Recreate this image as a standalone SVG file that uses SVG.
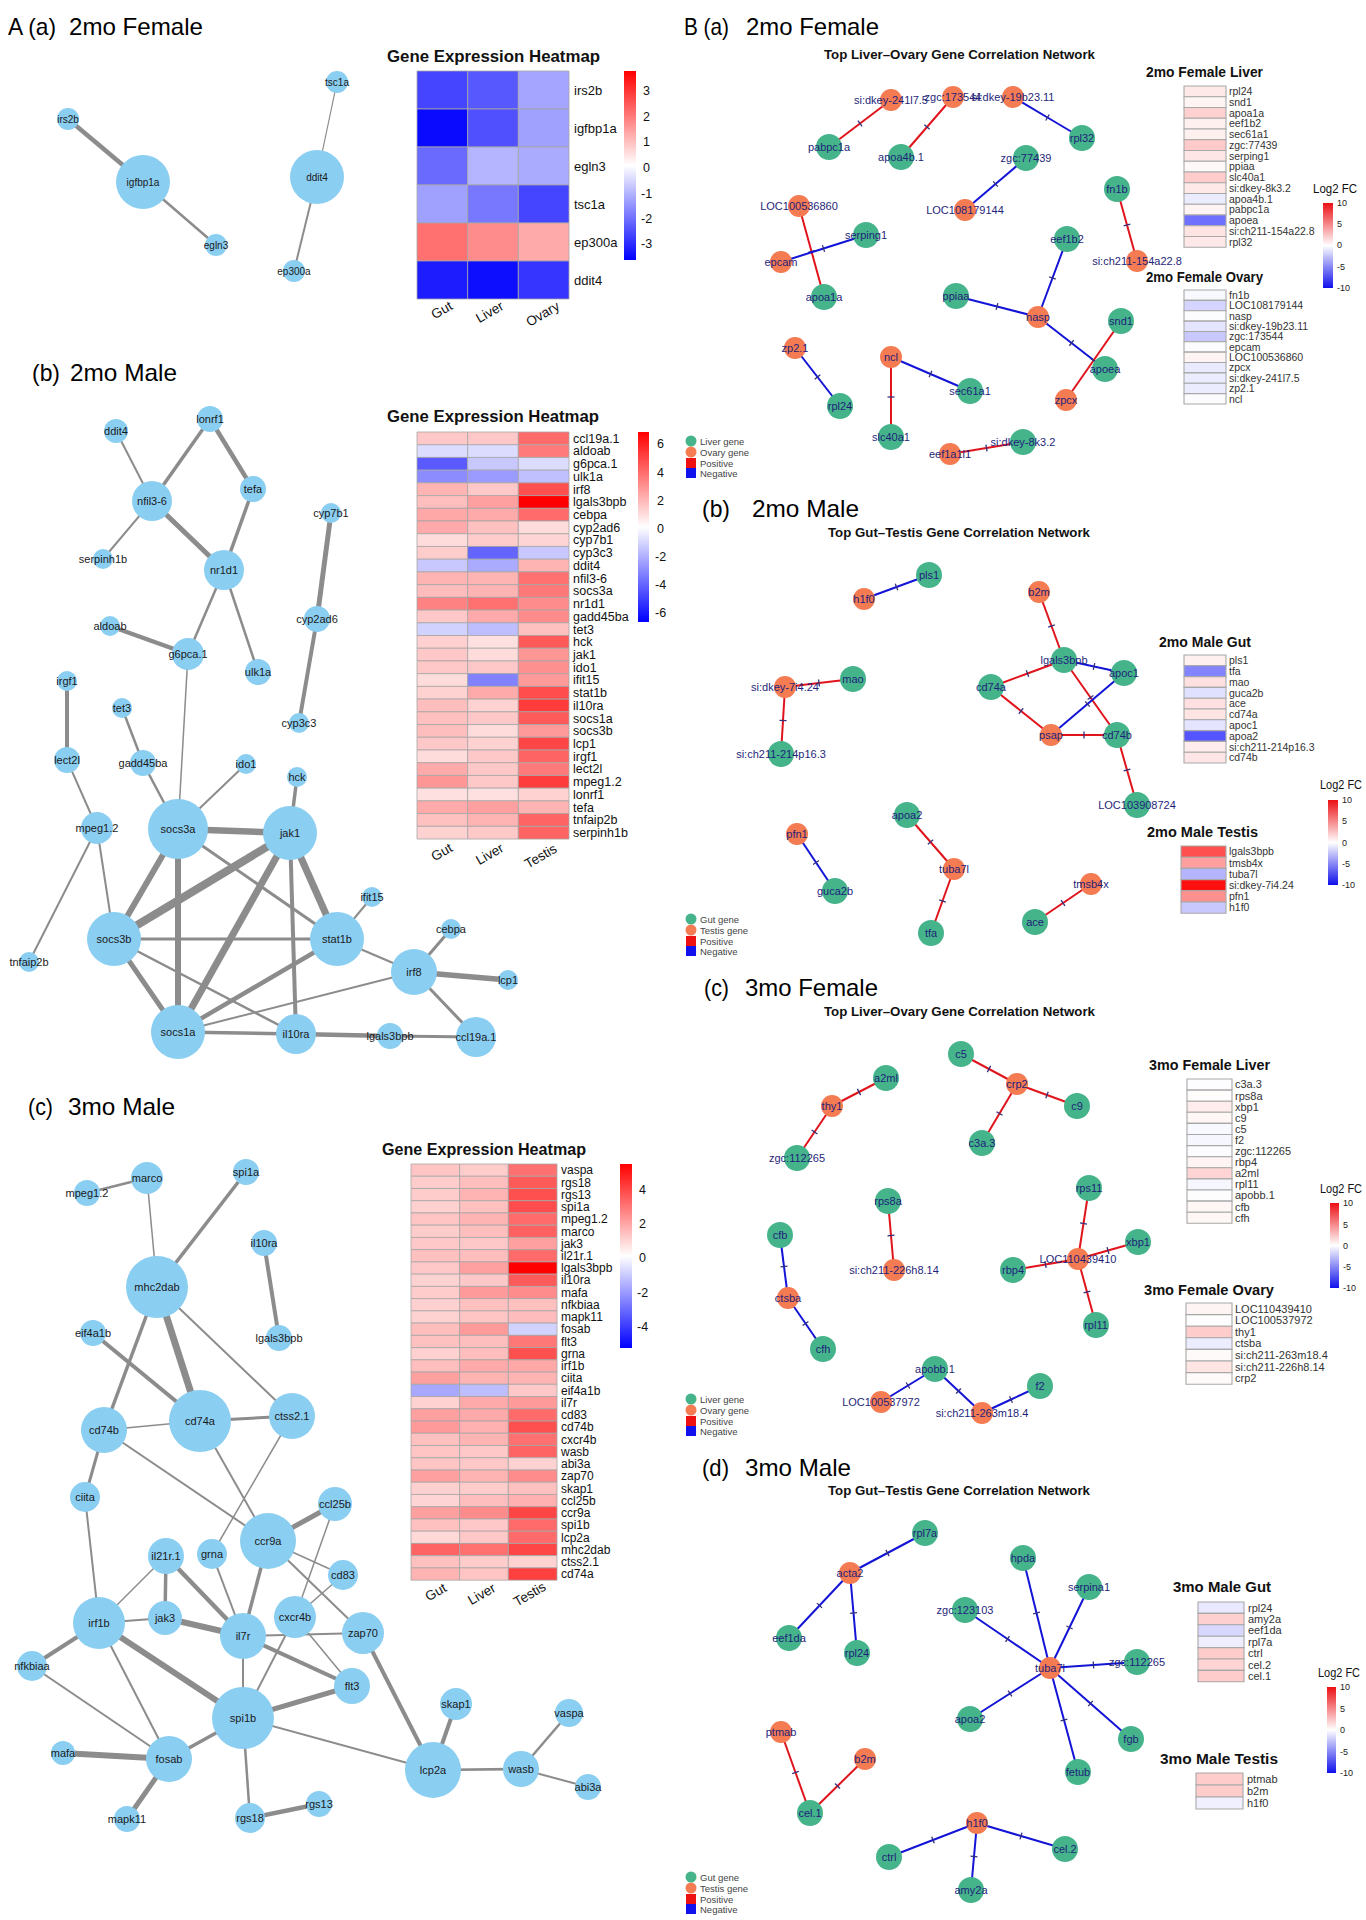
<svg xmlns="http://www.w3.org/2000/svg" width="1366" height="1920" viewBox="0 0 1366 1920">
<defs>
<linearGradient id="cbA" x1="0" y1="0" x2="0" y2="1"><stop offset="0" stop-color="#ff0000"/><stop offset="0.5" stop-color="#ffffff"/><stop offset="1" stop-color="#0000ff"/></linearGradient>
<linearGradient id="cbB" x1="0" y1="0" x2="0" y2="1"><stop offset="0" stop-color="#ec1014"/><stop offset="0.5" stop-color="#ffffff"/><stop offset="1" stop-color="#1010ec"/></linearGradient>
<marker id="tk" viewBox="-4 -4 8 8" markerWidth="8" markerHeight="8" refX="0" refY="0" orient="auto" markerUnits="userSpaceOnUse"><path d="M0,-3.5 L0,3.5" stroke="#33307a" stroke-width="1.3"/></marker>
</defs>
<style>
.ttl{font-family:"Liberation Sans",Arial,sans-serif;font-size:24px;fill:#000}
.hmt{font-family:"Liberation Sans",Arial,sans-serif;font-weight:bold;font-size:16px;fill:#111}
.hl{font-family:"Liberation Sans",Arial,sans-serif;font-size:12.5px;fill:#111}
.tk{font-family:"Liberation Sans",Arial,sans-serif;font-size:12.5px;fill:#111}
.cl{font-family:"Liberation Sans",Arial,sans-serif;font-size:13.5px;fill:#111;text-anchor:middle}
.c rect{stroke:#a6a6a6;stroke-width:0.8;vector-effect:non-scaling-stroke}
.mc rect{stroke:#a8a8a8;stroke-width:1.1;vector-effect:non-scaling-stroke}
.an circle{fill:#8acef2}
.an text{font-family:"Liberation Sans",Arial,sans-serif;font-size:11px;fill:#1a1a1a;text-anchor:middle;dominant-baseline:central}
.aa text{font-size:10px}
.ae line{stroke:#8c8c8c}
.bn text{font-family:"Liberation Sans",Arial,sans-serif;font-size:11px;fill:#1f1f7a;text-anchor:middle;dominant-baseline:central}
.gr{fill:#45b48b}
.or{fill:#f47b52}
.pe{stroke:#e0141c;stroke-width:2;fill:none;marker-mid:url(#tk)}
.ne{stroke:#1414d6;stroke-width:2;fill:none;marker-mid:url(#tk)}
.sub{font-family:"Liberation Sans",Arial,sans-serif;font-weight:bold;font-size:12.5px;fill:#111}
.mt{font-family:"Liberation Sans",Arial,sans-serif;font-weight:bold;font-size:14.5px;fill:#111}
.ml{font-family:"Liberation Sans",Arial,sans-serif;font-size:10.5px;fill:#333}
.ml2{font-family:"Liberation Sans",Arial,sans-serif;font-size:11px;fill:#333}
.lg{font-family:"Liberation Sans",Arial,sans-serif;font-size:9.5px;fill:#444}
.lf{font-family:"Liberation Sans",Arial,sans-serif;font-size:12px;fill:#111}
.lft{font-family:"Liberation Sans",Arial,sans-serif;font-size:9px;fill:#222}
</style>
<rect width="1366" height="1920" fill="#ffffff"/>

<!-- ================= A (a) ================= -->
<g id="A-a-title">
<text class="ttl" x="8" y="35" textLength="48" lengthAdjust="spacingAndGlyphs">A (a)</text>
<text class="ttl" x="69" y="35" textLength="134" lengthAdjust="spacingAndGlyphs">2mo Female</text>
</g>
<g id="aa-edges" class="ae">
<line x1="68" y1="119" x2="143" y2="182" stroke-width="4.5"/>
<line x1="143" y1="182" x2="216" y2="245" stroke-width="2.5"/>
<line x1="317" y1="177" x2="337" y2="82" stroke-width="1.2"/>
<line x1="317" y1="177" x2="294" y2="271" stroke-width="2"/>
</g>
<g class="an aa">
<g id="aa-irs2b"><circle cx="68" cy="119" r="11"/><text x="68" y="119">irs2b</text></g>
<g id="aa-igfbp1a"><circle cx="143" cy="182" r="27"/><text x="143" y="182">igfbp1a</text></g>
<g id="aa-egln3"><circle cx="216" cy="245" r="11"/><text x="216" y="245">egln3</text></g>
<g id="aa-tsc1a"><circle cx="337" cy="82" r="11"/><text x="337" y="82">tsc1a</text></g>
<g id="aa-ddit4"><circle cx="317" cy="177" r="27"/><text x="317" y="177">ddit4</text></g>
<g id="aa-ep300a"><circle cx="294" cy="271" r="11"/><text x="294" y="271">ep300a</text></g>
</g>
<g id="aa-heatmap">
<text class="hmt" x="387" y="62" textLength="213" lengthAdjust="spacingAndGlyphs">Gene Expression Heatmap</text>
<g class="c" transform="translate(417,71) scale(50.67,38)">
<rect x="0" y="0" width="1" height="1" fill="#4545ff"/><rect x="1" y="0" width="1" height="1" fill="#5858ff"/><rect x="2" y="0" width="1" height="1" fill="#a5a5ff"/>
<rect x="0" y="1" width="1" height="1" fill="#0a0aff"/><rect x="1" y="1" width="1" height="1" fill="#5050ff"/><rect x="2" y="1" width="1" height="1" fill="#a0a0ff"/>
<rect x="0" y="2" width="1" height="1" fill="#6a6aff"/><rect x="1" y="2" width="1" height="1" fill="#b5b5ff"/><rect x="2" y="2" width="1" height="1" fill="#aaaaff"/>
<rect x="0" y="3" width="1" height="1" fill="#a0a0ff"/><rect x="1" y="3" width="1" height="1" fill="#7878ff"/><rect x="2" y="3" width="1" height="1" fill="#4545ff"/>
<rect x="0" y="4" width="1" height="1" fill="#ff7070"/><rect x="1" y="4" width="1" height="1" fill="#ff8c8c"/><rect x="2" y="4" width="1" height="1" fill="#ffaaaa"/>
<rect x="0" y="5" width="1" height="1" fill="#1c1cff"/><rect x="1" y="5" width="1" height="1" fill="#0e0eff"/><rect x="2" y="5" width="1" height="1" fill="#3535ff"/>
</g>
<text class="hl" style="font-size:13px"><tspan x="574" y="94.6">irs2b</tspan><tspan x="574" dy="38">igfbp1a</tspan><tspan x="574" dy="38">egln3</tspan><tspan x="574" dy="38">tsc1a</tspan><tspan x="574" dy="38">ep300a</tspan><tspan x="574" dy="38">ddit4</tspan></text>
<text class="cl" transform="translate(444,314) rotate(-30)">Gut</text>
<text class="cl" transform="translate(492,316) rotate(-30)">Liver</text>
<text class="cl" transform="translate(545,318) rotate(-30)">Ovary</text>
<rect x="624" y="71" width="12" height="189" fill="url(#cbA)"/>
<text class="tk"><tspan x="643" y="94.5">3</tspan><tspan x="643" y="120.5">2</tspan><tspan x="643" y="145.5">1</tspan><tspan x="643" y="171.5">0</tspan><tspan x="641" y="197.5">-1</tspan><tspan x="641" y="222.5">-2</tspan><tspan x="641" y="247.5">-3</tspan></text>
</g>

<!-- ================= A (b) ================= -->
<g id="A-b-title">
<text class="ttl" x="32" y="381" textLength="28" lengthAdjust="spacingAndGlyphs">(b)</text>
<text class="ttl" x="70" y="381" textLength="107" lengthAdjust="spacingAndGlyphs">2mo Male</text>
</g>
<g id="ab-edges" class="ae">
<line x1="116" y1="431" x2="152" y2="501" stroke-width="2"/>
<line x1="210" y1="419" x2="152" y2="501" stroke-width="3.5"/>
<line x1="210" y1="419" x2="253" y2="489" stroke-width="4.5"/>
<line x1="152" y1="501" x2="103" y2="559" stroke-width="2"/>
<line x1="152" y1="501" x2="224" y2="570" stroke-width="5"/>
<line x1="253" y1="489" x2="224" y2="570" stroke-width="3.5"/>
<line x1="224" y1="570" x2="188" y2="654" stroke-width="2.5"/>
<line x1="224" y1="570" x2="258" y2="672" stroke-width="2.5"/>
<line x1="110" y1="626" x2="188" y2="654" stroke-width="4.5"/>
<line x1="188" y1="654" x2="178" y2="829" stroke-width="1.5"/>
<line x1="331" y1="513" x2="317" y2="619" stroke-width="5"/>
<line x1="317" y1="619" x2="299" y2="723" stroke-width="4"/>
<line x1="67" y1="681" x2="67" y2="760" stroke-width="4"/>
<line x1="122" y1="708" x2="143" y2="763" stroke-width="2.5"/>
<line x1="67" y1="760" x2="97" y2="828" stroke-width="2"/>
<line x1="143" y1="763" x2="178" y2="829" stroke-width="2.5"/>
<line x1="246" y1="764" x2="178" y2="829" stroke-width="2"/>
<line x1="297" y1="777" x2="290" y2="833" stroke-width="3.5"/>
<line x1="97" y1="828" x2="29" y2="962" stroke-width="2"/>
<line x1="97" y1="828" x2="114" y2="939" stroke-width="2"/>
<line x1="178" y1="829" x2="290" y2="833" stroke-width="6.5"/>
<line x1="178" y1="829" x2="114" y2="939" stroke-width="6"/>
<line x1="178" y1="829" x2="178" y2="1032" stroke-width="6"/>
<line x1="178" y1="829" x2="337" y2="939" stroke-width="3"/>
<line x1="290" y1="833" x2="114" y2="939" stroke-width="8"/>
<line x1="290" y1="833" x2="178" y2="1032" stroke-width="7"/>
<line x1="290" y1="833" x2="296" y2="1034" stroke-width="4"/>
<line x1="290" y1="833" x2="337" y2="939" stroke-width="7"/>
<line x1="372" y1="897" x2="337" y2="939" stroke-width="2"/>
<line x1="114" y1="939" x2="337" y2="939" stroke-width="3"/>
<line x1="114" y1="939" x2="178" y2="1032" stroke-width="5"/>
<line x1="114" y1="939" x2="296" y2="1034" stroke-width="2.5"/>
<line x1="178" y1="1032" x2="337" y2="939" stroke-width="4.5"/>
<line x1="178" y1="1032" x2="414" y2="972" stroke-width="2"/>
<line x1="178" y1="1032" x2="296" y2="1034" stroke-width="3.5"/>
<line x1="337" y1="939" x2="414" y2="972" stroke-width="2"/>
<line x1="451" y1="929" x2="414" y2="972" stroke-width="3"/>
<line x1="414" y1="972" x2="508" y2="980" stroke-width="5.5"/>
<line x1="414" y1="972" x2="476" y2="1037" stroke-width="3"/>
<line x1="296" y1="1034" x2="390" y2="1036" stroke-width="4.5"/>
<line x1="390" y1="1036" x2="476" y2="1037" stroke-width="3"/>
</g>
<g class="an">
<g id="ab-ddit4"><circle cx="116" cy="431" r="12"/><text x="116" y="431">ddit4</text></g>
<g id="ab-lonrf1"><circle cx="210" cy="419" r="13"/><text x="210" y="419">lonrf1</text></g>
<g id="ab-tefa"><circle cx="253" cy="489" r="13"/><text x="253" y="489">tefa</text></g>
<g id="ab-nfil3-6"><circle cx="152" cy="501" r="20"/><text x="152" y="501">nfil3-6</text></g>
<g id="ab-cyp7b1"><circle cx="331" cy="513" r="10"/><text x="331" y="513">cyp7b1</text></g>
<g id="ab-serpinh1b"><circle cx="103" cy="559" r="10"/><text x="103" y="559">serpinh1b</text></g>
<g id="ab-nr1d1"><circle cx="224" cy="570" r="20"/><text x="224" y="570">nr1d1</text></g>
<g id="ab-aldoab"><circle cx="110" cy="626" r="10"/><text x="110" y="626">aldoab</text></g>
<g id="ab-cyp2ad6"><circle cx="317" cy="619" r="13"/><text x="317" y="619">cyp2ad6</text></g>
<g id="ab-g6pca.1"><circle cx="188" cy="654" r="16"/><text x="188" y="654">g6pca.1</text></g>
<g id="ab-ulk1a"><circle cx="258" cy="672" r="13"/><text x="258" y="672">ulk1a</text></g>
<g id="ab-irgf1"><circle cx="67" cy="681" r="10"/><text x="67" y="681">irgf1</text></g>
<g id="ab-tet3"><circle cx="122" cy="708" r="10"/><text x="122" y="708">tet3</text></g>
<g id="ab-cyp3c3"><circle cx="299" cy="723" r="10"/><text x="299" y="723">cyp3c3</text></g>
<g id="ab-lect2l"><circle cx="67" cy="760" r="13"/><text x="67" y="760">lect2l</text></g>
<g id="ab-gadd45ba"><circle cx="143" cy="763" r="13"/><text x="143" y="763">gadd45ba</text></g>
<g id="ab-ido1"><circle cx="246" cy="764" r="10"/><text x="246" y="764">ido1</text></g>
<g id="ab-hck"><circle cx="297" cy="777" r="10"/><text x="297" y="777">hck</text></g>
<g id="ab-mpeg1.2"><circle cx="97" cy="828" r="16"/><text x="97" y="828">mpeg1.2</text></g>
<g id="ab-socs3a"><circle cx="178" cy="829" r="30"/><text x="178" y="829">socs3a</text></g>
<g id="ab-jak1"><circle cx="290" cy="833" r="27"/><text x="290" y="833">jak1</text></g>
<g id="ab-ifit15"><circle cx="372" cy="897" r="10"/><text x="372" y="897">ifit15</text></g>
<g id="ab-socs3b"><circle cx="114" cy="939" r="27"/><text x="114" y="939">socs3b</text></g>
<g id="ab-stat1b"><circle cx="337" cy="939" r="27"/><text x="337" y="939">stat1b</text></g>
<g id="ab-cebpa"><circle cx="451" cy="929" r="10"/><text x="451" y="929">cebpa</text></g>
<g id="ab-tnfaip2b"><circle cx="29" cy="962" r="10"/><text x="29" y="962">tnfaip2b</text></g>
<g id="ab-irf8"><circle cx="414" cy="972" r="23"/><text x="414" y="972">irf8</text></g>
<g id="ab-lcp1"><circle cx="508" cy="980" r="10"/><text x="508" y="980">lcp1</text></g>
<g id="ab-socs1a"><circle cx="178" cy="1032" r="27"/><text x="178" y="1032">socs1a</text></g>
<g id="ab-il10ra"><circle cx="296" cy="1034" r="20"/><text x="296" y="1034">il10ra</text></g>
<g id="ab-lgals3bpb"><circle cx="390" cy="1036" r="13"/><text x="390" y="1036">lgals3bpb</text></g>
<g id="ab-ccl19a.1"><circle cx="476" cy="1037" r="20"/><text x="476" y="1037">ccl19a.1</text></g>
</g>
<g id="ab-heatmap">
<text class="hmt" x="387" y="422" textLength="212" lengthAdjust="spacingAndGlyphs">Gene Expression Heatmap</text>
<g class="c" transform="translate(417,432) scale(50.67,12.72)">
<rect x="0" y="0" width="1" height="1" fill="#ffc8c8"/><rect x="1" y="0" width="1" height="1" fill="#ffc8c8"/><rect x="2" y="0" width="1" height="1" fill="#ff6a6a"/>
<rect x="0" y="1" width="1" height="1" fill="#dcdcff"/><rect x="1" y="1" width="1" height="1" fill="#dcdcff"/><rect x="2" y="1" width="1" height="1" fill="#ff7a7a"/>
<rect x="0" y="2" width="1" height="1" fill="#5a5aff"/><rect x="1" y="2" width="1" height="1" fill="#c8c8ff"/><rect x="2" y="2" width="1" height="1" fill="#dcdcff"/>
<rect x="0" y="3" width="1" height="1" fill="#8c8cff"/><rect x="1" y="3" width="1" height="1" fill="#9a9aff"/><rect x="2" y="3" width="1" height="1" fill="#c0c0ff"/>
<rect x="0" y="4" width="1" height="1" fill="#ffb4b4"/><rect x="1" y="4" width="1" height="1" fill="#ffc8c8"/><rect x="2" y="4" width="1" height="1" fill="#ff5050"/>
<rect x="0" y="5" width="1" height="1" fill="#ffbebe"/><rect x="1" y="5" width="1" height="1" fill="#ffa0a0"/><rect x="2" y="5" width="1" height="1" fill="#ff0000"/>
<rect x="0" y="6" width="1" height="1" fill="#ffa8a8"/><rect x="1" y="6" width="1" height="1" fill="#ffaaaa"/><rect x="2" y="6" width="1" height="1" fill="#ff6a6a"/>
<rect x="0" y="7" width="1" height="1" fill="#ffaaaa"/><rect x="1" y="7" width="1" height="1" fill="#ffc0c0"/><rect x="2" y="7" width="1" height="1" fill="#ffdcdc"/>
<rect x="0" y="8" width="1" height="1" fill="#ffdcdc"/><rect x="1" y="8" width="1" height="1" fill="#ffcccc"/><rect x="2" y="8" width="1" height="1" fill="#ffd4d4"/>
<rect x="0" y="9" width="1" height="1" fill="#ffcccc"/><rect x="1" y="9" width="1" height="1" fill="#6464ff"/><rect x="2" y="9" width="1" height="1" fill="#c8c8ff"/>
<rect x="0" y="10" width="1" height="1" fill="#c8c8ff"/><rect x="1" y="10" width="1" height="1" fill="#aaaaff"/><rect x="2" y="10" width="1" height="1" fill="#ffb4b4"/>
<rect x="0" y="11" width="1" height="1" fill="#ffb4b4"/><rect x="1" y="11" width="1" height="1" fill="#ffb4b4"/><rect x="2" y="11" width="1" height="1" fill="#ff7070"/>
<rect x="0" y="12" width="1" height="1" fill="#ffbcbc"/><rect x="1" y="12" width="1" height="1" fill="#ffb4b4"/><rect x="2" y="12" width="1" height="1" fill="#ff7878"/>
<rect x="0" y="13" width="1" height="1" fill="#ff8282"/><rect x="1" y="13" width="1" height="1" fill="#ff7070"/><rect x="2" y="13" width="1" height="1" fill="#ff8c8c"/>
<rect x="0" y="14" width="1" height="1" fill="#ffc8c8"/><rect x="1" y="14" width="1" height="1" fill="#ffaaaa"/><rect x="2" y="14" width="1" height="1" fill="#ff8c8c"/>
<rect x="0" y="15" width="1" height="1" fill="#d2d2ff"/><rect x="1" y="15" width="1" height="1" fill="#bebeff"/><rect x="2" y="15" width="1" height="1" fill="#ffc0c0"/>
<rect x="0" y="16" width="1" height="1" fill="#ffd0d0"/><rect x="1" y="16" width="1" height="1" fill="#ffe0e0"/><rect x="2" y="16" width="1" height="1" fill="#ff5a5a"/>
<rect x="0" y="17" width="1" height="1" fill="#ffc8c8"/><rect x="1" y="17" width="1" height="1" fill="#ffdcdc"/><rect x="2" y="17" width="1" height="1" fill="#ff9696"/>
<rect x="0" y="18" width="1" height="1" fill="#ffc8c8"/><rect x="1" y="18" width="1" height="1" fill="#ffc8c8"/><rect x="2" y="18" width="1" height="1" fill="#ff9090"/>
<rect x="0" y="19" width="1" height="1" fill="#ffdcdc"/><rect x="1" y="19" width="1" height="1" fill="#8282ff"/><rect x="2" y="19" width="1" height="1" fill="#ff9a9a"/>
<rect x="0" y="20" width="1" height="1" fill="#ffd2d2"/><rect x="1" y="20" width="1" height="1" fill="#ffaaaa"/><rect x="2" y="20" width="1" height="1" fill="#ff4c4c"/>
<rect x="0" y="21" width="1" height="1" fill="#ffbebe"/><rect x="1" y="21" width="1" height="1" fill="#ffd2d2"/><rect x="2" y="21" width="1" height="1" fill="#ff3c3c"/>
<rect x="0" y="22" width="1" height="1" fill="#ffc0c0"/><rect x="1" y="22" width="1" height="1" fill="#ffc8c8"/><rect x="2" y="22" width="1" height="1" fill="#ff5a5a"/>
<rect x="0" y="23" width="1" height="1" fill="#ffbebe"/><rect x="1" y="23" width="1" height="1" fill="#ffdcdc"/><rect x="2" y="23" width="1" height="1" fill="#ff9a9a"/>
<rect x="0" y="24" width="1" height="1" fill="#ffc8c8"/><rect x="1" y="24" width="1" height="1" fill="#ffd2d2"/><rect x="2" y="24" width="1" height="1" fill="#ff4646"/>
<rect x="0" y="25" width="1" height="1" fill="#ffdcdc"/><rect x="1" y="25" width="1" height="1" fill="#ffc8c8"/><rect x="2" y="25" width="1" height="1" fill="#ff6464"/>
<rect x="0" y="26" width="1" height="1" fill="#ffaaaa"/><rect x="1" y="26" width="1" height="1" fill="#ffc8c8"/><rect x="2" y="26" width="1" height="1" fill="#ff7a7a"/>
<rect x="0" y="27" width="1" height="1" fill="#ff9696"/><rect x="1" y="27" width="1" height="1" fill="#ffc8c8"/><rect x="2" y="27" width="1" height="1" fill="#ff3c3c"/>
<rect x="0" y="28" width="1" height="1" fill="#ffe0e0"/><rect x="1" y="28" width="1" height="1" fill="#ffe0e0"/><rect x="2" y="28" width="1" height="1" fill="#ffd2d2"/>
<rect x="0" y="29" width="1" height="1" fill="#ffaaaa"/><rect x="1" y="29" width="1" height="1" fill="#ffa0a0"/><rect x="2" y="29" width="1" height="1" fill="#ffb4b4"/>
<rect x="0" y="30" width="1" height="1" fill="#ffc0c0"/><rect x="1" y="30" width="1" height="1" fill="#ffb4b4"/><rect x="2" y="30" width="1" height="1" fill="#ff6464"/>
<rect x="0" y="31" width="1" height="1" fill="#ffd2d2"/><rect x="1" y="31" width="1" height="1" fill="#ffc8c8"/><rect x="2" y="31" width="1" height="1" fill="#ff6464"/>
</g>
<text class="hl"><tspan x="573" y="442.7">ccl19a.1</tspan><tspan x="573" dy="12.72">aldoab</tspan><tspan x="573" dy="12.72">g6pca.1</tspan><tspan x="573" dy="12.72">ulk1a</tspan><tspan x="573" dy="12.72">irf8</tspan><tspan x="573" dy="12.72">lgals3bpb</tspan><tspan x="573" dy="12.72">cebpa</tspan><tspan x="573" dy="12.72">cyp2ad6</tspan><tspan x="573" dy="12.72">cyp7b1</tspan><tspan x="573" dy="12.72">cyp3c3</tspan><tspan x="573" dy="12.72">ddit4</tspan><tspan x="573" dy="12.72">nfil3-6</tspan><tspan x="573" dy="12.72">socs3a</tspan><tspan x="573" dy="12.72">nr1d1</tspan><tspan x="573" dy="12.72">gadd45ba</tspan><tspan x="573" dy="12.72">tet3</tspan><tspan x="573" dy="12.72">hck</tspan><tspan x="573" dy="12.72">jak1</tspan><tspan x="573" dy="12.72">ido1</tspan><tspan x="573" dy="12.72">ifit15</tspan><tspan x="573" dy="12.72">stat1b</tspan><tspan x="573" dy="12.72">il10ra</tspan><tspan x="573" dy="12.72">socs1a</tspan><tspan x="573" dy="12.72">socs3b</tspan><tspan x="573" dy="12.72">lcp1</tspan><tspan x="573" dy="12.72">irgf1</tspan><tspan x="573" dy="12.72">lect2l</tspan><tspan x="573" dy="12.72">mpeg1.2</tspan><tspan x="573" dy="12.72">lonrf1</tspan><tspan x="573" dy="12.72">tefa</tspan><tspan x="573" dy="12.72">tnfaip2b</tspan><tspan x="573" dy="12.72">serpinh1b</tspan></text>
<text class="cl" transform="translate(444,856) rotate(-30)">Gut</text>
<text class="cl" transform="translate(492,858) rotate(-30)">Liver</text>
<text class="cl" transform="translate(543,860) rotate(-30)">Testis</text>
<rect x="638" y="432" width="11" height="190" fill="url(#cbA)"/>
<text class="tk"><tspan x="657" y="447.5">6</tspan><tspan x="657" y="476.5">4</tspan><tspan x="657" y="504.5">2</tspan><tspan x="657" y="532.5">0</tspan><tspan x="655" y="560.5">-2</tspan><tspan x="655" y="588.5">-4</tspan><tspan x="655" y="616.5">-6</tspan></text>
</g>

<!-- ================= A (c) ================= -->
<g id="A-c-title">
<text class="ttl" x="28" y="1115" textLength="25" lengthAdjust="spacingAndGlyphs">(c)</text>
<text class="ttl" x="68" y="1115" textLength="107" lengthAdjust="spacingAndGlyphs">3mo Male</text>
</g>
<g id="ac-edges" class="ae">
<line x1="87" y1="1193" x2="147" y2="1178" stroke-width="2.5"/>
<line x1="147" y1="1178" x2="157" y2="1287" stroke-width="1.5"/>
<line x1="246" y1="1172" x2="157" y2="1287" stroke-width="3.5"/>
<line x1="264" y1="1243" x2="279" y2="1338" stroke-width="4"/>
<line x1="157" y1="1287" x2="104" y2="1430" stroke-width="3.5"/>
<line x1="157" y1="1287" x2="200" y2="1421" stroke-width="7"/>
<line x1="157" y1="1287" x2="292" y2="1416" stroke-width="2"/>
<line x1="93" y1="1333" x2="200" y2="1421" stroke-width="4"/>
<line x1="104" y1="1430" x2="200" y2="1421" stroke-width="1.5"/>
<line x1="200" y1="1421" x2="292" y2="1416" stroke-width="3"/>
<line x1="104" y1="1430" x2="85" y2="1497" stroke-width="3"/>
<line x1="104" y1="1430" x2="268" y2="1541" stroke-width="2"/>
<line x1="200" y1="1421" x2="268" y2="1541" stroke-width="2"/>
<line x1="292" y1="1416" x2="212" y2="1554" stroke-width="1.5"/>
<line x1="268" y1="1541" x2="335" y2="1504" stroke-width="5"/>
<line x1="335" y1="1504" x2="295" y2="1617" stroke-width="1.5"/>
<line x1="268" y1="1541" x2="343" y2="1575" stroke-width="1.5"/>
<line x1="343" y1="1575" x2="295" y2="1617" stroke-width="1.5"/>
<line x1="268" y1="1541" x2="243" y2="1636" stroke-width="3.5"/>
<line x1="268" y1="1541" x2="363" y2="1633" stroke-width="2"/>
<line x1="85" y1="1497" x2="99" y2="1623" stroke-width="2"/>
<line x1="99" y1="1623" x2="166" y2="1556" stroke-width="1.5"/>
<line x1="166" y1="1556" x2="165" y2="1618" stroke-width="3.5"/>
<line x1="166" y1="1556" x2="243" y2="1636" stroke-width="4.5"/>
<line x1="99" y1="1623" x2="165" y2="1618" stroke-width="2"/>
<line x1="165" y1="1618" x2="243" y2="1636" stroke-width="6"/>
<line x1="212" y1="1554" x2="243" y2="1636" stroke-width="2"/>
<line x1="243" y1="1636" x2="363" y2="1633" stroke-width="2"/>
<line x1="295" y1="1617" x2="352" y2="1686" stroke-width="1.5"/>
<line x1="243" y1="1636" x2="352" y2="1686" stroke-width="4"/>
<line x1="295" y1="1617" x2="243" y2="1718" stroke-width="2"/>
<line x1="243" y1="1636" x2="243" y2="1718" stroke-width="2"/>
<line x1="99" y1="1623" x2="243" y2="1718" stroke-width="6"/>
<line x1="99" y1="1623" x2="32" y2="1666" stroke-width="4"/>
<line x1="99" y1="1623" x2="169" y2="1759" stroke-width="2"/>
<line x1="32" y1="1666" x2="169" y2="1759" stroke-width="2"/>
<line x1="243" y1="1718" x2="352" y2="1686" stroke-width="5"/>
<line x1="243" y1="1718" x2="169" y2="1759" stroke-width="3.5"/>
<line x1="243" y1="1718" x2="433" y2="1770" stroke-width="2"/>
<line x1="243" y1="1718" x2="250" y2="1818" stroke-width="2.5"/>
<line x1="63" y1="1753" x2="169" y2="1759" stroke-width="6"/>
<line x1="169" y1="1759" x2="127" y2="1819" stroke-width="5"/>
<line x1="250" y1="1818" x2="319" y2="1804" stroke-width="4.5"/>
<line x1="363" y1="1633" x2="433" y2="1770" stroke-width="4"/>
<line x1="456" y1="1704" x2="433" y2="1770" stroke-width="4"/>
<line x1="433" y1="1770" x2="521" y2="1769" stroke-width="2.5"/>
<line x1="521" y1="1769" x2="569" y2="1713" stroke-width="2.5"/>
<line x1="521" y1="1769" x2="588" y2="1787" stroke-width="2"/>
</g>
<g class="an">
<g id="ac-marco"><circle cx="147" cy="1178" r="16"/><text x="147" y="1178">marco</text></g>
<g id="ac-mpeg1.2"><circle cx="87" cy="1193" r="13"/><text x="87" y="1193">mpeg1.2</text></g>
<g id="ac-spi1a"><circle cx="246" cy="1172" r="13"/><text x="246" y="1172">spi1a</text></g>
<g id="ac-il10ra"><circle cx="264" cy="1243" r="13"/><text x="264" y="1243">il10ra</text></g>
<g id="ac-mhc2dab"><circle cx="157" cy="1287" r="31"/><text x="157" y="1287">mhc2dab</text></g>
<g id="ac-eif4a1b"><circle cx="93" cy="1333" r="13"/><text x="93" y="1333">eif4a1b</text></g>
<g id="ac-lgals3bpb"><circle cx="279" cy="1338" r="13"/><text x="279" y="1338">lgals3bpb</text></g>
<g id="ac-cd74a"><circle cx="200" cy="1421" r="31"/><text x="200" y="1421">cd74a</text></g>
<g id="ac-ctss2.1"><circle cx="292" cy="1416" r="23"/><text x="292" y="1416">ctss2.1</text></g>
<g id="ac-cd74b"><circle cx="104" cy="1430" r="23"/><text x="104" y="1430">cd74b</text></g>
<g id="ac-ciita"><circle cx="85" cy="1497" r="15"/><text x="85" y="1497">ciita</text></g>
<g id="ac-ccl25b"><circle cx="335" cy="1504" r="17"/><text x="335" y="1504">ccl25b</text></g>
<g id="ac-ccr9a"><circle cx="268" cy="1541" r="28"/><text x="268" y="1541">ccr9a</text></g>
<g id="ac-il21r.1"><circle cx="166" cy="1556" r="18"/><text x="166" y="1556">il21r.1</text></g>
<g id="ac-grna"><circle cx="212" cy="1554" r="15"/><text x="212" y="1554">grna</text></g>
<g id="ac-cd83"><circle cx="343" cy="1575" r="15"/><text x="343" y="1575">cd83</text></g>
<g id="ac-irf1b"><circle cx="99" cy="1623" r="26"/><text x="99" y="1623">irf1b</text></g>
<g id="ac-jak3"><circle cx="165" cy="1618" r="17"/><text x="165" y="1618">jak3</text></g>
<g id="ac-il7r"><circle cx="243" cy="1636" r="23"/><text x="243" y="1636">il7r</text></g>
<g id="ac-cxcr4b"><circle cx="295" cy="1617" r="21"/><text x="295" y="1617">cxcr4b</text></g>
<g id="ac-zap70"><circle cx="363" cy="1633" r="21"/><text x="363" y="1633">zap70</text></g>
<g id="ac-nfkbiaa"><circle cx="32" cy="1666" r="15"/><text x="32" y="1666">nfkbiaa</text></g>
<g id="ac-flt3"><circle cx="352" cy="1686" r="18"/><text x="352" y="1686">flt3</text></g>
<g id="ac-spi1b"><circle cx="243" cy="1718" r="31"/><text x="243" y="1718">spi1b</text></g>
<g id="ac-skap1"><circle cx="456" cy="1704" r="16"/><text x="456" y="1704">skap1</text></g>
<g id="ac-vaspa"><circle cx="569" cy="1713" r="14"/><text x="569" y="1713">vaspa</text></g>
<g id="ac-mafa"><circle cx="63" cy="1753" r="12"/><text x="63" y="1753">mafa</text></g>
<g id="ac-fosab"><circle cx="169" cy="1759" r="23"/><text x="169" y="1759">fosab</text></g>
<g id="ac-lcp2a"><circle cx="433" cy="1770" r="28"/><text x="433" y="1770">lcp2a</text></g>
<g id="ac-wasb"><circle cx="521" cy="1769" r="18"/><text x="521" y="1769">wasb</text></g>
<g id="ac-abi3a"><circle cx="588" cy="1787" r="13"/><text x="588" y="1787">abi3a</text></g>
<g id="ac-mapk11"><circle cx="127" cy="1819" r="13"/><text x="127" y="1819">mapk11</text></g>
<g id="ac-rgs18"><circle cx="250" cy="1818" r="15"/><text x="250" y="1818">rgs18</text></g>
<g id="ac-rgs13"><circle cx="319" cy="1804" r="13"/><text x="319" y="1804">rgs13</text></g>
</g>
<g id="ac-heatmap">
<text class="hmt" x="382" y="1155" textLength="204" lengthAdjust="spacingAndGlyphs">Gene Expression Heatmap</text>
<g class="c" transform="translate(411,1164) scale(48.67,12.24)">
<rect x="0" y="0" width="1" height="1" fill="#ffc4c4"/><rect x="1" y="0" width="1" height="1" fill="#ffcccc"/><rect x="2" y="0" width="1" height="1" fill="#ff7070"/>
<rect x="0" y="1" width="1" height="1" fill="#ffcccc"/><rect x="1" y="1" width="1" height="1" fill="#ffbebe"/><rect x="2" y="1" width="1" height="1" fill="#ff5a5a"/>
<rect x="0" y="2" width="1" height="1" fill="#ffcccc"/><rect x="1" y="2" width="1" height="1" fill="#ffb4b4"/><rect x="2" y="2" width="1" height="1" fill="#ff5050"/>
<rect x="0" y="3" width="1" height="1" fill="#ffd0d0"/><rect x="1" y="3" width="1" height="1" fill="#ffc0c0"/><rect x="2" y="3" width="1" height="1" fill="#ff4c4c"/>
<rect x="0" y="4" width="1" height="1" fill="#ffc4c4"/><rect x="1" y="4" width="1" height="1" fill="#ffb4b4"/><rect x="2" y="4" width="1" height="1" fill="#ff6a6a"/>
<rect x="0" y="5" width="1" height="1" fill="#ffcccc"/><rect x="1" y="5" width="1" height="1" fill="#ffbebe"/><rect x="2" y="5" width="1" height="1" fill="#ff6060"/>
<rect x="0" y="6" width="1" height="1" fill="#ffc8c8"/><rect x="1" y="6" width="1" height="1" fill="#ffc8c8"/><rect x="2" y="6" width="1" height="1" fill="#ffa0a0"/>
<rect x="0" y="7" width="1" height="1" fill="#ffc0c0"/><rect x="1" y="7" width="1" height="1" fill="#ffbebe"/><rect x="2" y="7" width="1" height="1" fill="#ff6a6a"/>
<rect x="0" y="8" width="1" height="1" fill="#ffc8c8"/><rect x="1" y="8" width="1" height="1" fill="#ffa0a0"/><rect x="2" y="8" width="1" height="1" fill="#ff0000"/>
<rect x="0" y="9" width="1" height="1" fill="#ffd2d2"/><rect x="1" y="9" width="1" height="1" fill="#ffc8c8"/><rect x="2" y="9" width="1" height="1" fill="#ff5a5a"/>
<rect x="0" y="10" width="1" height="1" fill="#ffcccc"/><rect x="1" y="10" width="1" height="1" fill="#ff9a9a"/><rect x="2" y="10" width="1" height="1" fill="#ff8c8c"/>
<rect x="0" y="11" width="1" height="1" fill="#ffd0d0"/><rect x="1" y="11" width="1" height="1" fill="#ffc0c0"/><rect x="2" y="11" width="1" height="1" fill="#ffc0c0"/>
<rect x="0" y="12" width="1" height="1" fill="#ffd2d2"/><rect x="1" y="12" width="1" height="1" fill="#ffc4c4"/><rect x="2" y="12" width="1" height="1" fill="#ffbcbc"/>
<rect x="0" y="13" width="1" height="1" fill="#ffbebe"/><rect x="1" y="13" width="1" height="1" fill="#ff9a9a"/><rect x="2" y="13" width="1" height="1" fill="#d2d2ff"/>
<rect x="0" y="14" width="1" height="1" fill="#ffc0c0"/><rect x="1" y="14" width="1" height="1" fill="#ffbebe"/><rect x="2" y="14" width="1" height="1" fill="#ff7878"/>
<rect x="0" y="15" width="1" height="1" fill="#ffd0d0"/><rect x="1" y="15" width="1" height="1" fill="#ffbebe"/><rect x="2" y="15" width="1" height="1" fill="#ff5050"/>
<rect x="0" y="16" width="1" height="1" fill="#ffbebe"/><rect x="1" y="16" width="1" height="1" fill="#ffaaaa"/><rect x="2" y="16" width="1" height="1" fill="#ffa8a8"/>
<rect x="0" y="17" width="1" height="1" fill="#ffa0a0"/><rect x="1" y="17" width="1" height="1" fill="#ffb4b4"/><rect x="2" y="17" width="1" height="1" fill="#ffb4b4"/>
<rect x="0" y="18" width="1" height="1" fill="#a8a8ff"/><rect x="1" y="18" width="1" height="1" fill="#bebeff"/><rect x="2" y="18" width="1" height="1" fill="#ffc8c8"/>
<rect x="0" y="19" width="1" height="1" fill="#ffd2d2"/><rect x="1" y="19" width="1" height="1" fill="#ffaaaa"/><rect x="2" y="19" width="1" height="1" fill="#ff9a9a"/>
<rect x="0" y="20" width="1" height="1" fill="#ffa0a0"/><rect x="1" y="20" width="1" height="1" fill="#ffaaaa"/><rect x="2" y="20" width="1" height="1" fill="#ff6a6a"/>
<rect x="0" y="21" width="1" height="1" fill="#ff9a9a"/><rect x="1" y="21" width="1" height="1" fill="#ffb0b0"/><rect x="2" y="21" width="1" height="1" fill="#ff5050"/>
<rect x="0" y="22" width="1" height="1" fill="#ffc0c0"/><rect x="1" y="22" width="1" height="1" fill="#ffb4b4"/><rect x="2" y="22" width="1" height="1" fill="#ff7070"/>
<rect x="0" y="23" width="1" height="1" fill="#ffc4c4"/><rect x="1" y="23" width="1" height="1" fill="#ffc8c8"/><rect x="2" y="23" width="1" height="1" fill="#ff6464"/>
<rect x="0" y="24" width="1" height="1" fill="#ffc4c4"/><rect x="1" y="24" width="1" height="1" fill="#ffc8c8"/><rect x="2" y="24" width="1" height="1" fill="#ffd2d2"/>
<rect x="0" y="25" width="1" height="1" fill="#ffa0a0"/><rect x="1" y="25" width="1" height="1" fill="#ffb4b4"/><rect x="2" y="25" width="1" height="1" fill="#ff8c8c"/>
<rect x="0" y="26" width="1" height="1" fill="#ffd0d0"/><rect x="1" y="26" width="1" height="1" fill="#ffcccc"/><rect x="2" y="26" width="1" height="1" fill="#ffc0c0"/>
<rect x="0" y="27" width="1" height="1" fill="#ffd4d4"/><rect x="1" y="27" width="1" height="1" fill="#ffbebe"/><rect x="2" y="27" width="1" height="1" fill="#ffb0b0"/>
<rect x="0" y="28" width="1" height="1" fill="#ffa0a0"/><rect x="1" y="28" width="1" height="1" fill="#ff8c8c"/><rect x="2" y="28" width="1" height="1" fill="#ff4646"/>
<rect x="0" y="29" width="1" height="1" fill="#ffc0c0"/><rect x="1" y="29" width="1" height="1" fill="#ffc8c8"/><rect x="2" y="29" width="1" height="1" fill="#ff6a6a"/>
<rect x="0" y="30" width="1" height="1" fill="#ffd8d8"/><rect x="1" y="30" width="1" height="1" fill="#ffc8c8"/><rect x="2" y="30" width="1" height="1" fill="#ff6a6a"/>
<rect x="0" y="31" width="1" height="1" fill="#ff6464"/><rect x="1" y="31" width="1" height="1" fill="#ff7070"/><rect x="2" y="31" width="1" height="1" fill="#ff4646"/>
<rect x="0" y="32" width="1" height="1" fill="#ffc0c0"/><rect x="1" y="32" width="1" height="1" fill="#ffcccc"/><rect x="2" y="32" width="1" height="1" fill="#ffd2d2"/>
<rect x="0" y="33" width="1" height="1" fill="#ffb4b4"/><rect x="1" y="33" width="1" height="1" fill="#ffc4c4"/><rect x="2" y="33" width="1" height="1" fill="#ff4040"/>
</g>
<text class="hl" style="font-size:12px"><tspan x="561" y="1174.3">vaspa</tspan><tspan x="561" dy="12.24">rgs18</tspan><tspan x="561" dy="12.24">rgs13</tspan><tspan x="561" dy="12.24">spi1a</tspan><tspan x="561" dy="12.24">mpeg1.2</tspan><tspan x="561" dy="12.24">marco</tspan><tspan x="561" dy="12.24">jak3</tspan><tspan x="561" dy="12.24">il21r.1</tspan><tspan x="561" dy="12.24">lgals3bpb</tspan><tspan x="561" dy="12.24">il10ra</tspan><tspan x="561" dy="12.24">mafa</tspan><tspan x="561" dy="12.24">nfkbiaa</tspan><tspan x="561" dy="12.24">mapk11</tspan><tspan x="561" dy="12.24">fosab</tspan><tspan x="561" dy="12.24">flt3</tspan><tspan x="561" dy="12.24">grna</tspan><tspan x="561" dy="12.24">irf1b</tspan><tspan x="561" dy="12.24">ciita</tspan><tspan x="561" dy="12.24">eif4a1b</tspan><tspan x="561" dy="12.24">il7r</tspan><tspan x="561" dy="12.24">cd83</tspan><tspan x="561" dy="12.24">cd74b</tspan><tspan x="561" dy="12.24">cxcr4b</tspan><tspan x="561" dy="12.24">wasb</tspan><tspan x="561" dy="12.24">abi3a</tspan><tspan x="561" dy="12.24">zap70</tspan><tspan x="561" dy="12.24">skap1</tspan><tspan x="561" dy="12.24">ccl25b</tspan><tspan x="561" dy="12.24">ccr9a</tspan><tspan x="561" dy="12.24">spi1b</tspan><tspan x="561" dy="12.24">lcp2a</tspan><tspan x="561" dy="12.24">mhc2dab</tspan><tspan x="561" dy="12.24">ctss2.1</tspan><tspan x="561" dy="12.24">cd74a</tspan></text>
<text class="cl" transform="translate(438,1596) rotate(-30)">Gut</text>
<text class="cl" transform="translate(484,1598) rotate(-30)">Liver</text>
<text class="cl" transform="translate(532,1598) rotate(-30)">Testis</text>
<rect x="620" y="1164" width="12" height="184" fill="url(#cbA)"/>
<text class="tk"><tspan x="639" y="1193.5">4</tspan><tspan x="639" y="1227.5">2</tspan><tspan x="639" y="1261.5">0</tspan><tspan x="637" y="1296.5">-2</tspan><tspan x="637" y="1330.5">-4</tspan></text>
</g>

<!-- ================= B (a) ================= -->
<g id="B-a-title">
<text class="ttl" x="684" y="35" textLength="45" lengthAdjust="spacingAndGlyphs">B (a)</text>
<text class="ttl" x="746" y="35" textLength="133" lengthAdjust="spacingAndGlyphs">2mo Female</text>
<text class="sub" x="824" y="59" textLength="271" lengthAdjust="spacingAndGlyphs">Top Liver–Ovary Gene Correlation Network</text>
</g>
<g id="ba-edges">
<path class="pe" d="M891,100 L860,123.5 L829,147"/>
<path class="pe" d="M953,97 L927,127 L901,157"/>
<path class="ne" d="M1013,97 L1047.5,117.5 L1082,138"/>
<path class="ne" d="M1026,158 L995.5,184 L965,210"/>
<path class="pe" d="M799,206 L811.5,251.5 L824,297"/>
<path class="ne" d="M866,235 L823.5,248.5 L781,262"/>
<path class="pe" d="M1117,189 L1127,225 L1137,261"/>
<path class="ne" d="M1067,239 L1052.5,278 L1038,317"/>
<path class="ne" d="M956,296 L997,306.5 L1038,317"/>
<path class="ne" d="M1038,317 L1071.5,343 L1105,369"/>
<path class="pe" d="M1121,321 L1093.5,360.5 L1066,400"/>
<path class="ne" d="M795,348 L817.5,377 L840,406"/>
<path class="ne" d="M891,357 L930.5,374 L970,391"/>
<path class="pe" d="M891,357 L891,397 L891,437"/>
<path class="pe" d="M950,454 L986.5,448 L1023,442"/>
</g>
<g class="bn">
<g id="ba-si_dkey-241l7.5"><circle class="or" cx="891" cy="100" r="11"/><text x="891" y="100">si:dkey-241l7.5</text></g>
<g id="ba-zgc_173544"><circle class="or" cx="953" cy="97" r="11"/><text x="953" y="97">zgc:173544</text></g>
<g id="ba-si_dkey-19b23.11"><circle class="or" cx="1013" cy="97" r="11"/><text x="1013" y="97">si:dkey-19b23.11</text></g>
<g id="ba-pabpc1a"><circle class="gr" cx="829" cy="147" r="13"/><text x="829" y="147">pabpc1a</text></g>
<g id="ba-apoa4b.1"><circle class="gr" cx="901" cy="157" r="13"/><text x="901" y="157">apoa4b.1</text></g>
<g id="ba-rpl32"><circle class="gr" cx="1082" cy="138" r="13"/><text x="1082" y="138">rpl32</text></g>
<g id="ba-zgc_77439"><circle class="gr" cx="1026" cy="158" r="13"/><text x="1026" y="158">zgc:77439</text></g>
<g id="ba-fn1b"><circle class="gr" cx="1117" cy="189" r="13"/><text x="1117" y="189">fn1b</text></g>
<g id="ba-LOC100536860"><circle class="or" cx="799" cy="206" r="11"/><text x="799" y="206">LOC100536860</text></g>
<g id="ba-LOC108179144"><circle class="or" cx="965" cy="210" r="11"/><text x="965" y="210">LOC108179144</text></g>
<g id="ba-serping1"><circle class="gr" cx="866" cy="235" r="13"/><text x="866" y="235">serping1</text></g>
<g id="ba-eef1b2"><circle class="gr" cx="1067" cy="239" r="13"/><text x="1067" y="239">eef1b2</text></g>
<g id="ba-epcam"><circle class="or" cx="781" cy="262" r="11"/><text x="781" y="262">epcam</text></g>
<g id="ba-si_ch211-154a22.8"><circle class="or" cx="1137" cy="261" r="11"/><text x="1137" y="261">si:ch211-154a22.8</text></g>
<g id="ba-apoa1a"><circle class="gr" cx="824" cy="297" r="13"/><text x="824" y="297">apoa1a</text></g>
<g id="ba-ppiaa"><circle class="gr" cx="956" cy="296" r="13"/><text x="956" y="296">ppiaa</text></g>
<g id="ba-nasp"><circle class="or" cx="1038" cy="317" r="11"/><text x="1038" y="317">nasp</text></g>
<g id="ba-snd1"><circle class="gr" cx="1121" cy="321" r="13"/><text x="1121" y="321">snd1</text></g>
<g id="ba-zp2.1"><circle class="or" cx="795" cy="348" r="11"/><text x="795" y="348">zp2.1</text></g>
<g id="ba-ncl"><circle class="or" cx="891" cy="357" r="11"/><text x="891" y="357">ncl</text></g>
<g id="ba-apoea"><circle class="gr" cx="1105" cy="369" r="13"/><text x="1105" y="369">apoea</text></g>
<g id="ba-sec61a1"><circle class="gr" cx="970" cy="391" r="13"/><text x="970" y="391">sec61a1</text></g>
<g id="ba-zpcx"><circle class="or" cx="1066" cy="400" r="11"/><text x="1066" y="400">zpcx</text></g>
<g id="ba-rpl24"><circle class="gr" cx="840" cy="406" r="13"/><text x="840" y="406">rpl24</text></g>
<g id="ba-slc40a1"><circle class="gr" cx="891" cy="437" r="13"/><text x="891" y="437">slc40a1</text></g>
<g id="ba-si_dkey-8k3.2"><circle class="gr" cx="1023" cy="442" r="13"/><text x="1023" y="442">si:dkey-8k3.2</text></g>
<g id="ba-eef1a1l1"><circle class="or" cx="950" cy="454" r="11"/><text x="950" y="454">eef1a1l1</text></g>
</g>
<g id="ba-legend">
<circle class="gr" cx="691" cy="441" r="5.5"/><text class="lg" x="700" y="444.5">Liver gene</text>
<circle class="or" cx="691" cy="452" r="5.5"/><text class="lg" x="700" y="455.5">Ovary gene</text>
<rect x="686" y="458" width="10" height="10" fill="#ee1111"/><text class="lg" x="700" y="466.5">Positive</text>
<rect x="686" y="468" width="10" height="10" fill="#1111ee"/><text class="lg" x="700" y="476.5">Negative</text>
</g>
<g id="ba-heatmaps">
<text class="mt" x="1146" y="77" textLength="117" lengthAdjust="spacingAndGlyphs">2mo Female Liver</text>
<g class="mc" transform="translate(1184,86) scale(42,10.75)">
<rect x="0" y="0" width="1" height="1" fill="#ffe8e8"/><rect x="0" y="1" width="1" height="1" fill="#fff4f4"/><rect x="0" y="2" width="1" height="1" fill="#ffd0d0"/><rect x="0" y="3" width="1" height="1" fill="#fff0f0"/><rect x="0" y="4" width="1" height="1" fill="#fff0f0"/><rect x="0" y="5" width="1" height="1" fill="#ffcaca"/><rect x="0" y="6" width="1" height="1" fill="#ffe6e6"/><rect x="0" y="7" width="1" height="1" fill="#fff8f8"/><rect x="0" y="8" width="1" height="1" fill="#ffcccc"/><rect x="0" y="9" width="1" height="1" fill="#ffe8e8"/><rect x="0" y="10" width="1" height="1" fill="#ececff"/><rect x="0" y="11" width="1" height="1" fill="#fff4f4"/><rect x="0" y="12" width="1" height="1" fill="#7070ff"/><rect x="0" y="13" width="1" height="1" fill="#ffe4e4"/><rect x="0" y="14" width="1" height="1" fill="#ffe8e8"/>
</g>
<text class="ml"><tspan x="1229" y="95.1">rpl24</tspan><tspan x="1229" dy="10.75">snd1</tspan><tspan x="1229" dy="10.75">apoa1a</tspan><tspan x="1229" dy="10.75">eef1b2</tspan><tspan x="1229" dy="10.75">sec61a1</tspan><tspan x="1229" dy="10.75">zgc:77439</tspan><tspan x="1229" dy="10.75">serping1</tspan><tspan x="1229" dy="10.75">ppiaa</tspan><tspan x="1229" dy="10.75">slc40a1</tspan><tspan x="1229" dy="10.75">si:dkey-8k3.2</tspan><tspan x="1229" dy="10.75">apoa4b.1</tspan><tspan x="1229" dy="10.75">pabpc1a</tspan><tspan x="1229" dy="10.75">apoea</tspan><tspan x="1229" dy="10.75">si:ch211-154a22.8</tspan><tspan x="1229" dy="10.75">rpl32</tspan></text>
<text class="mt" x="1146" y="282" textLength="117" lengthAdjust="spacingAndGlyphs">2mo Female Ovary</text>
<g class="mc" transform="translate(1184,290) scale(42,10.36)">
<rect x="0" y="0" width="1" height="1" fill="#f8f8ff"/><rect x="0" y="1" width="1" height="1" fill="#d4d4ff"/><rect x="0" y="2" width="1" height="1" fill="#fcfcff"/><rect x="0" y="3" width="1" height="1" fill="#e4e4ff"/><rect x="0" y="4" width="1" height="1" fill="#c8c8ff"/><rect x="0" y="5" width="1" height="1" fill="#fcfcff"/><rect x="0" y="6" width="1" height="1" fill="#fff4f4"/><rect x="0" y="7" width="1" height="1" fill="#eaeaff"/><rect x="0" y="8" width="1" height="1" fill="#ececff"/><rect x="0" y="9" width="1" height="1" fill="#ececff"/><rect x="0" y="10" width="1" height="1" fill="#fcfcff"/>
</g>
<text class="ml"><tspan x="1229" y="298.9">fn1b</tspan><tspan x="1229" dy="10.36">LOC108179144</tspan><tspan x="1229" dy="10.36">nasp</tspan><tspan x="1229" dy="10.36">si:dkey-19b23.11</tspan><tspan x="1229" dy="10.36">zgc:173544</tspan><tspan x="1229" dy="10.36">epcam</tspan><tspan x="1229" dy="10.36">LOC100536860</tspan><tspan x="1229" dy="10.36">zpcx</tspan><tspan x="1229" dy="10.36">si:dkey-241l7.5</tspan><tspan x="1229" dy="10.36">zp2.1</tspan><tspan x="1229" dy="10.36">ncl</tspan></text>
<text class="lf" x="1313" y="193" textLength="44" lengthAdjust="spacingAndGlyphs">Log2 FC</text>
<rect x="1323" y="203" width="10" height="85" fill="url(#cbB)"/>
<text class="lft"><tspan x="1337" y="206">10</tspan><tspan x="1337" y="227">5</tspan><tspan x="1337" y="248">0</tspan><tspan x="1337" y="270">-5</tspan><tspan x="1337" y="291">-10</tspan></text>
</g>

<!-- ================= B (b) ================= -->
<g id="B-b-title">
<text class="ttl" x="702" y="517" textLength="28" lengthAdjust="spacingAndGlyphs">(b)</text>
<text class="ttl" x="752" y="517" textLength="107" lengthAdjust="spacingAndGlyphs">2mo Male</text>
<text class="sub" x="828" y="537" textLength="262" lengthAdjust="spacingAndGlyphs">Top Gut–Testis Gene Correlation Network</text>
</g>
<g id="bb-edges">
<path class="ne" d="M864,599 L896.5,587 L929,575"/>
<path class="pe" d="M1039,592 L1051.5,626 L1064,660"/>
<path class="ne" d="M1064,660 L1094,666.5 L1124,673"/>
<path class="pe" d="M1064,660 L1027.5,673.5 L991,687"/>
<path class="pe" d="M1064,660 L1090.5,697.5 L1117,735"/>
<path class="pe" d="M991,687 L1021,711 L1051,735"/>
<path class="ne" d="M1051,735 L1087.5,704 L1124,673"/>
<path class="pe" d="M1051,735 L1084,735 L1117,735"/>
<path class="pe" d="M1117,735 L1127,770 L1137,805"/>
<path class="pe" d="M853,679 L819,683 L785,687"/>
<path class="pe" d="M785,687 L783,720.5 L781,754"/>
<path class="ne" d="M797,834 L816,862.5 L835,891"/>
<path class="pe" d="M907,815 L930.5,842 L954,869"/>
<path class="pe" d="M954,869 L942.5,901 L931,933"/>
<path class="pe" d="M1091,884 L1063,903 L1035,922"/>
</g>
<g class="bn">
<g id="bb-pls1"><circle class="gr" cx="929" cy="575" r="13"/><text x="929" y="575">pls1</text></g>
<g id="bb-h1f0"><circle class="or" cx="864" cy="599" r="11"/><text x="864" y="599">h1f0</text></g>
<g id="bb-b2m"><circle class="or" cx="1039" cy="592" r="11"/><text x="1039" y="592">b2m</text></g>
<g id="bb-lgals3bpb"><circle class="gr" cx="1064" cy="660" r="13"/><text x="1064" y="660">lgals3bpb</text></g>
<g id="bb-apoc1"><circle class="gr" cx="1124" cy="673" r="13"/><text x="1124" y="673">apoc1</text></g>
<g id="bb-mao"><circle class="gr" cx="853" cy="679" r="13"/><text x="853" y="679">mao</text></g>
<g id="bb-si_dkey-7i4.24"><circle class="or" cx="785" cy="687" r="11"/><text x="785" y="687">si:dkey-7i4.24</text></g>
<g id="bb-cd74a"><circle class="gr" cx="991" cy="687" r="13"/><text x="991" y="687">cd74a</text></g>
<g id="bb-psap"><circle class="or" cx="1051" cy="735" r="11"/><text x="1051" y="735">psap</text></g>
<g id="bb-cd74b"><circle class="gr" cx="1117" cy="735" r="13"/><text x="1117" y="735">cd74b</text></g>
<g id="bb-si_ch211-214p16.3"><circle class="gr" cx="781" cy="754" r="13"/><text x="781" y="754">si:ch211-214p16.3</text></g>
<g id="bb-LOC103908724"><circle class="gr" cx="1137" cy="805" r="13"/><text x="1137" y="805">LOC103908724</text></g>
<g id="bb-apoa2"><circle class="gr" cx="907" cy="815" r="13"/><text x="907" y="815">apoa2</text></g>
<g id="bb-pfn1"><circle class="or" cx="797" cy="834" r="11"/><text x="797" y="834">pfn1</text></g>
<g id="bb-tuba7l"><circle class="or" cx="954" cy="869" r="11"/><text x="954" y="869">tuba7l</text></g>
<g id="bb-tmsb4x"><circle class="or" cx="1091" cy="884" r="11"/><text x="1091" y="884">tmsb4x</text></g>
<g id="bb-guca2b"><circle class="gr" cx="835" cy="891" r="13"/><text x="835" y="891">guca2b</text></g>
<g id="bb-ace"><circle class="gr" cx="1035" cy="922" r="13"/><text x="1035" y="922">ace</text></g>
<g id="bb-tfa"><circle class="gr" cx="931" cy="933" r="13"/><text x="931" y="933">tfa</text></g>
</g>
<g id="bb-legend">
<circle class="gr" cx="691" cy="919" r="5.5"/><text class="lg" x="700" y="922.5">Gut gene</text>
<circle class="or" cx="691" cy="930" r="5.5"/><text class="lg" x="700" y="933.5">Testis gene</text>
<rect x="686" y="936" width="10" height="10" fill="#ee1111"/><text class="lg" x="700" y="944.5">Positive</text>
<rect x="686" y="946" width="10" height="10" fill="#1111ee"/><text class="lg" x="700" y="954.5">Negative</text>
</g>
<g id="bb-heatmaps">
<text class="mt" x="1159" y="647" textLength="92" lengthAdjust="spacingAndGlyphs">2mo Male Gut</text>
<g class="mc" transform="translate(1184,655) scale(42,10.8)">
<rect x="0" y="0" width="1" height="1" fill="#fff0f0"/><rect x="0" y="1" width="1" height="1" fill="#8484ff"/><rect x="0" y="2" width="1" height="1" fill="#ffe0e0"/><rect x="0" y="3" width="1" height="1" fill="#e0e0ff"/><rect x="0" y="4" width="1" height="1" fill="#ffe0e0"/><rect x="0" y="5" width="1" height="1" fill="#ffe4e4"/><rect x="0" y="6" width="1" height="1" fill="#e4e4ff"/><rect x="0" y="7" width="1" height="1" fill="#5555ff"/><rect x="0" y="8" width="1" height="1" fill="#ffecec"/><rect x="0" y="9" width="1" height="1" fill="#ffe6e6"/>
</g>
<text class="ml"><tspan x="1229" y="664.1">pls1</tspan><tspan x="1229" dy="10.8">tfa</tspan><tspan x="1229" dy="10.8">mao</tspan><tspan x="1229" dy="10.8">guca2b</tspan><tspan x="1229" dy="10.8">ace</tspan><tspan x="1229" dy="10.8">cd74a</tspan><tspan x="1229" dy="10.8">apoc1</tspan><tspan x="1229" dy="10.8">apoa2</tspan><tspan x="1229" dy="10.8">si:ch211-214p16.3</tspan><tspan x="1229" dy="10.8">cd74b</tspan></text>
<text class="mt" x="1147" y="837" textLength="111" lengthAdjust="spacingAndGlyphs">2mo Male Testis</text>
<g class="mc" transform="translate(1181,846) scale(45,11.2)">
<rect x="0" y="0" width="1" height="1" fill="#ff5050"/><rect x="0" y="1" width="1" height="1" fill="#ffa0a0"/><rect x="0" y="2" width="1" height="1" fill="#b4b4ff"/><rect x="0" y="3" width="1" height="1" fill="#ff1010"/><rect x="0" y="4" width="1" height="1" fill="#ff9090"/><rect x="0" y="5" width="1" height="1" fill="#c8c8ff"/>
</g>
<text class="ml"><tspan x="1229" y="855.3">lgals3bpb</tspan><tspan x="1229" dy="11.2">tmsb4x</tspan><tspan x="1229" dy="11.2">tuba7l</tspan><tspan x="1229" dy="11.2">si:dkey-7i4.24</tspan><tspan x="1229" dy="11.2">pfn1</tspan><tspan x="1229" dy="11.2">h1f0</tspan></text>
<text class="lf" x="1320" y="789" textLength="42" lengthAdjust="spacingAndGlyphs">Log2 FC</text>
<rect x="1328" y="800" width="10" height="85" fill="url(#cbB)"/>
<text class="lft"><tspan x="1342" y="803">10</tspan><tspan x="1342" y="824">5</tspan><tspan x="1342" y="846">0</tspan><tspan x="1342" y="867">-5</tspan><tspan x="1342" y="888">-10</tspan></text>
</g>

<!-- ================= B (c) ================= -->
<g id="B-c-title">
<text class="ttl" x="704" y="996" textLength="25" lengthAdjust="spacingAndGlyphs">(c)</text>
<text class="ttl" x="745" y="996" textLength="133" lengthAdjust="spacingAndGlyphs">3mo Female</text>
<text class="sub" x="824" y="1016" textLength="271" lengthAdjust="spacingAndGlyphs">Top Liver–Ovary Gene Correlation Network</text>
</g>
<g id="bc-edges">
<path class="pe" d="M832,1106 L859,1092 L886,1078"/>
<path class="pe" d="M832,1106 L814.5,1132 L797,1158"/>
<path class="pe" d="M961,1054 L989,1069 L1017,1084"/>
<path class="pe" d="M1017,1084 L1047,1095 L1077,1106"/>
<path class="pe" d="M1017,1084 L999.5,1113.5 L982,1143"/>
<path class="pe" d="M888,1201 L891,1235.5 L894,1270"/>
<path class="pe" d="M1089,1188 L1083.5,1223.5 L1078,1259"/>
<path class="pe" d="M1138,1242 L1108,1250.5 L1078,1259"/>
<path class="pe" d="M1013,1270 L1045.5,1264.5 L1078,1259"/>
<path class="pe" d="M1078,1259 L1087,1292 L1096,1325"/>
<path class="ne" d="M780,1235 L784,1266.5 L788,1298"/>
<path class="ne" d="M788,1298 L805.5,1323.5 L823,1349"/>
<path class="ne" d="M935,1369 L908,1385.5 L881,1402"/>
<path class="ne" d="M935,1369 L958.5,1391 L982,1413"/>
<path class="ne" d="M982,1413 L1011,1399.5 L1040,1386"/>
</g>
<g class="bn">
<g id="bc-c5"><circle class="gr" cx="961" cy="1054" r="13"/><text x="961" y="1054">c5</text></g>
<g id="bc-a2ml"><circle class="gr" cx="886" cy="1078" r="13"/><text x="886" y="1078">a2ml</text></g>
<g id="bc-crp2"><circle class="or" cx="1017" cy="1084" r="11"/><text x="1017" y="1084">crp2</text></g>
<g id="bc-thy1"><circle class="or" cx="832" cy="1106" r="11"/><text x="832" y="1106">thy1</text></g>
<g id="bc-c9"><circle class="gr" cx="1077" cy="1106" r="13"/><text x="1077" y="1106">c9</text></g>
<g id="bc-c3a.3"><circle class="gr" cx="982" cy="1143" r="13"/><text x="982" y="1143">c3a.3</text></g>
<g id="bc-zgc_112265"><circle class="gr" cx="797" cy="1158" r="13"/><text x="797" y="1158">zgc:112265</text></g>
<g id="bc-rps11"><circle class="gr" cx="1089" cy="1188" r="13"/><text x="1089" y="1188">rps11</text></g>
<g id="bc-rps8a"><circle class="gr" cx="888" cy="1201" r="13"/><text x="888" y="1201">rps8a</text></g>
<g id="bc-cfb"><circle class="gr" cx="780" cy="1235" r="13"/><text x="780" y="1235">cfb</text></g>
<g id="bc-xbp1"><circle class="gr" cx="1138" cy="1242" r="13"/><text x="1138" y="1242">xbp1</text></g>
<g id="bc-LOC110439410"><circle class="or" cx="1078" cy="1259" r="11"/><text x="1078" y="1259">LOC110439410</text></g>
<g id="bc-rbp4"><circle class="gr" cx="1013" cy="1270" r="13"/><text x="1013" y="1270">rbp4</text></g>
<g id="bc-si_ch211-226h8.14"><circle class="or" cx="894" cy="1270" r="11"/><text x="894" y="1270">si:ch211-226h8.14</text></g>
<g id="bc-ctsba"><circle class="or" cx="788" cy="1298" r="11"/><text x="788" y="1298">ctsba</text></g>
<g id="bc-rpl11"><circle class="gr" cx="1096" cy="1325" r="13"/><text x="1096" y="1325">rpl11</text></g>
<g id="bc-cfh"><circle class="gr" cx="823" cy="1349" r="13"/><text x="823" y="1349">cfh</text></g>
<g id="bc-apobb.1"><circle class="gr" cx="935" cy="1369" r="13"/><text x="935" y="1369">apobb.1</text></g>
<g id="bc-f2"><circle class="gr" cx="1040" cy="1386" r="13"/><text x="1040" y="1386">f2</text></g>
<g id="bc-LOC100537972"><circle class="or" cx="881" cy="1402" r="11"/><text x="881" y="1402">LOC100537972</text></g>
<g id="bc-si_ch211-263m18.4"><circle class="or" cx="982" cy="1413" r="11"/><text x="982" y="1413">si:ch211-263m18.4</text></g>
</g>
<g id="bc-legend">
<circle class="gr" cx="691" cy="1399" r="5.5"/><text class="lg" x="700" y="1402.5">Liver gene</text>
<circle class="or" cx="691" cy="1410" r="5.5"/><text class="lg" x="700" y="1413.5">Ovary gene</text>
<rect x="686" y="1416" width="10" height="10" fill="#ee1111"/><text class="lg" x="700" y="1424.5">Positive</text>
<rect x="686" y="1426" width="10" height="10" fill="#1111ee"/><text class="lg" x="700" y="1434.5">Negative</text>
</g>
<g id="bc-heatmaps">
<text class="mt" x="1149" y="1070" textLength="121" lengthAdjust="spacingAndGlyphs">3mo Female Liver</text>
<g class="mc" transform="translate(1187,1079) scale(45,11.1)">
<rect x="0" y="0" width="1" height="1" fill="#fdfdff"/><rect x="0" y="1" width="1" height="1" fill="#fffcfc"/><rect x="0" y="2" width="1" height="1" fill="#ffecec"/><rect x="0" y="3" width="1" height="1" fill="#fff6f6"/><rect x="0" y="4" width="1" height="1" fill="#f8f8ff"/><rect x="0" y="5" width="1" height="1" fill="#f6f6ff"/><rect x="0" y="6" width="1" height="1" fill="#fcfcff"/><rect x="0" y="7" width="1" height="1" fill="#fff4f4"/><rect x="0" y="8" width="1" height="1" fill="#ffd4d4"/><rect x="0" y="9" width="1" height="1" fill="#f6f6ff"/><rect x="0" y="10" width="1" height="1" fill="#fdfdfd"/><rect x="0" y="11" width="1" height="1" fill="#fff6f6"/><rect x="0" y="12" width="1" height="1" fill="#fff6f6"/>
</g>
<text class="ml2"><tspan x="1235" y="1088.4">c3a.3</tspan><tspan x="1235" dy="11.1">rps8a</tspan><tspan x="1235" dy="11.1">xbp1</tspan><tspan x="1235" dy="11.1">c9</tspan><tspan x="1235" dy="11.1">c5</tspan><tspan x="1235" dy="11.1">f2</tspan><tspan x="1235" dy="11.1">zgc:112265</tspan><tspan x="1235" dy="11.1">rbp4</tspan><tspan x="1235" dy="11.1">a2ml</tspan><tspan x="1235" dy="11.1">rpl11</tspan><tspan x="1235" dy="11.1">apobb.1</tspan><tspan x="1235" dy="11.1">cfb</tspan><tspan x="1235" dy="11.1">cfh</tspan></text>
<text class="mt" x="1144" y="1295" textLength="130" lengthAdjust="spacingAndGlyphs">3mo Female Ovary</text>
<g class="mc" transform="translate(1186,1303) scale(46,11.6)">
<rect x="0" y="0" width="1" height="1" fill="#fff4f4"/><rect x="0" y="1" width="1" height="1" fill="#fdfdfd"/><rect x="0" y="2" width="1" height="1" fill="#ffcccc"/><rect x="0" y="3" width="1" height="1" fill="#ececff"/><rect x="0" y="4" width="1" height="1" fill="#fffafa"/><rect x="0" y="5" width="1" height="1" fill="#ffe4e4"/><rect x="0" y="6" width="1" height="1" fill="#fffafa"/>
</g>
<text class="ml2"><tspan x="1235" y="1312.6">LOC110439410</tspan><tspan x="1235" dy="11.6">LOC100537972</tspan><tspan x="1235" dy="11.6">thy1</tspan><tspan x="1235" dy="11.6">ctsba</tspan><tspan x="1235" dy="11.6">si:ch211-263m18.4</tspan><tspan x="1235" dy="11.6">si:ch211-226h8.14</tspan><tspan x="1235" dy="11.6">crp2</tspan></text>
<text class="lf" x="1320" y="1193" textLength="42" lengthAdjust="spacingAndGlyphs">Log2 FC</text>
<rect x="1330" y="1203" width="9" height="85" fill="url(#cbB)"/>
<text class="lft"><tspan x="1343" y="1206">10</tspan><tspan x="1343" y="1228">5</tspan><tspan x="1343" y="1249">0</tspan><tspan x="1343" y="1270">-5</tspan><tspan x="1343" y="1291">-10</tspan></text>
</g>

<!-- ================= B (d) ================= -->
<g id="B-d-title">
<text class="ttl" x="702" y="1476" textLength="27" lengthAdjust="spacingAndGlyphs">(d)</text>
<text class="ttl" x="745" y="1476" textLength="106" lengthAdjust="spacingAndGlyphs">3mo Male</text>
<text class="sub" x="828" y="1495" textLength="262" lengthAdjust="spacingAndGlyphs">Top Gut–Testis Gene Correlation Network</text>
</g>
<g id="bd-edges">
<path class="ne" d="M850,1573 L887.5,1553 L925,1533"/>
<path class="ne" d="M850,1573 L819.5,1605.5 L789,1638"/>
<path class="ne" d="M850,1573 L853.5,1613 L857,1653"/>
<path class="ne" d="M1050,1668 L1036.5,1613 L1023,1558"/>
<path class="ne" d="M1050,1668 L1069.5,1627.5 L1089,1587"/>
<path class="ne" d="M1050,1668 L1007.5,1639 L965,1610"/>
<path class="ne" d="M1050,1668 L1093.5,1665 L1137,1662"/>
<path class="ne" d="M1050,1668 L1010,1693.5 L970,1719"/>
<path class="ne" d="M1050,1668 L1090.5,1703.5 L1131,1739"/>
<path class="ne" d="M1050,1668 L1064,1720 L1078,1772"/>
<path class="pe" d="M781,1732 L795.5,1772.5 L810,1813"/>
<path class="pe" d="M865,1759 L837.5,1786 L810,1813"/>
<path class="ne" d="M977,1823 L933,1840 L889,1857"/>
<path class="ne" d="M977,1823 L1021,1836 L1065,1849"/>
<path class="ne" d="M977,1823 L974,1856.5 L971,1890"/>
</g>
<g class="bn">
<g id="bd-rpl7a"><circle class="gr" cx="925" cy="1533" r="13"/><text x="925" y="1533">rpl7a</text></g>
<g id="bd-hpda"><circle class="gr" cx="1023" cy="1558" r="13"/><text x="1023" y="1558">hpda</text></g>
<g id="bd-acta2"><circle class="or" cx="850" cy="1573" r="11"/><text x="850" y="1573">acta2</text></g>
<g id="bd-serpina1"><circle class="gr" cx="1089" cy="1587" r="13"/><text x="1089" y="1587">serpina1</text></g>
<g id="bd-zgc_123103"><circle class="gr" cx="965" cy="1610" r="13"/><text x="965" y="1610">zgc:123103</text></g>
<g id="bd-eef1da"><circle class="gr" cx="789" cy="1638" r="13"/><text x="789" y="1638">eef1da</text></g>
<g id="bd-rpl24"><circle class="gr" cx="857" cy="1653" r="13"/><text x="857" y="1653">rpl24</text></g>
<g id="bd-zgc_112265"><circle class="gr" cx="1137" cy="1662" r="13"/><text x="1137" y="1662">zgc:112265</text></g>
<g id="bd-tuba7l"><circle class="or" cx="1050" cy="1668" r="11"/><text x="1050" y="1668">tuba7l</text></g>
<g id="bd-apoa2"><circle class="gr" cx="970" cy="1719" r="13"/><text x="970" y="1719">apoa2</text></g>
<g id="bd-ptmab"><circle class="or" cx="781" cy="1732" r="11"/><text x="781" y="1732">ptmab</text></g>
<g id="bd-fgb"><circle class="gr" cx="1131" cy="1739" r="13"/><text x="1131" y="1739">fgb</text></g>
<g id="bd-b2m"><circle class="or" cx="865" cy="1759" r="11"/><text x="865" y="1759">b2m</text></g>
<g id="bd-fetub"><circle class="gr" cx="1078" cy="1772" r="13"/><text x="1078" y="1772">fetub</text></g>
<g id="bd-cel.1"><circle class="gr" cx="810" cy="1813" r="13"/><text x="810" y="1813">cel.1</text></g>
<g id="bd-h1f0"><circle class="or" cx="977" cy="1823" r="11"/><text x="977" y="1823">h1f0</text></g>
<g id="bd-cel.2"><circle class="gr" cx="1065" cy="1849" r="13"/><text x="1065" y="1849">cel.2</text></g>
<g id="bd-ctrl"><circle class="gr" cx="889" cy="1857" r="13"/><text x="889" y="1857">ctrl</text></g>
<g id="bd-amy2a"><circle class="gr" cx="971" cy="1890" r="13"/><text x="971" y="1890">amy2a</text></g>
</g>
<g id="bd-legend">
<circle class="gr" cx="691" cy="1877" r="5.5"/><text class="lg" x="700" y="1880.5">Gut gene</text>
<circle class="or" cx="691" cy="1888" r="5.5"/><text class="lg" x="700" y="1891.5">Testis gene</text>
<rect x="686" y="1894" width="10" height="10" fill="#ee1111"/><text class="lg" x="700" y="1902.5">Positive</text>
<rect x="686" y="1904" width="10" height="10" fill="#1111ee"/><text class="lg" x="700" y="1912.5">Negative</text>
</g>
<g id="bd-heatmaps">
<text class="mt" x="1173" y="1592" textLength="98" lengthAdjust="spacingAndGlyphs">3mo Male Gut</text>
<g class="mc" transform="translate(1198,1602) scale(46,11.4)">
<rect x="0" y="0" width="1" height="1" fill="#e8e8ff"/><rect x="0" y="1" width="1" height="1" fill="#ffd0d0"/><rect x="0" y="2" width="1" height="1" fill="#d8d8ff"/><rect x="0" y="3" width="1" height="1" fill="#eeeeff"/><rect x="0" y="4" width="1" height="1" fill="#ffcccc"/><rect x="0" y="5" width="1" height="1" fill="#ffd4d4"/><rect x="0" y="6" width="1" height="1" fill="#ffcccc"/>
</g>
<text class="ml2"><tspan x="1248" y="1611.6">rpl24</tspan><tspan x="1248" dy="11.4">amy2a</tspan><tspan x="1248" dy="11.4">eef1da</tspan><tspan x="1248" dy="11.4">rpl7a</tspan><tspan x="1248" dy="11.4">ctrl</tspan><tspan x="1248" dy="11.4">cel.2</tspan><tspan x="1248" dy="11.4">cel.1</tspan></text>
<text class="mt" x="1160" y="1764" textLength="118" lengthAdjust="spacingAndGlyphs">3mo Male Testis</text>
<g class="mc" transform="translate(1196,1773) scale(47,12)">
<rect x="0" y="0" width="1" height="1" fill="#ffcccc"/><rect x="0" y="1" width="1" height="1" fill="#ffcccc"/><rect x="0" y="2" width="1" height="1" fill="#f0f0ff"/>
</g>
<text class="ml2"><tspan x="1247" y="1782.9">ptmab</tspan><tspan x="1247" dy="12">b2m</tspan><tspan x="1247" dy="12">h1f0</tspan></text>
<text class="lf" x="1318" y="1677" textLength="42" lengthAdjust="spacingAndGlyphs">Log2 FC</text>
<rect x="1327" y="1687" width="9" height="86" fill="url(#cbB)"/>
<text class="lft"><tspan x="1340" y="1690">10</tspan><tspan x="1340" y="1712">5</tspan><tspan x="1340" y="1733">0</tspan><tspan x="1340" y="1755">-5</tspan><tspan x="1340" y="1776">-10</tspan></text>
</g>
</svg>
